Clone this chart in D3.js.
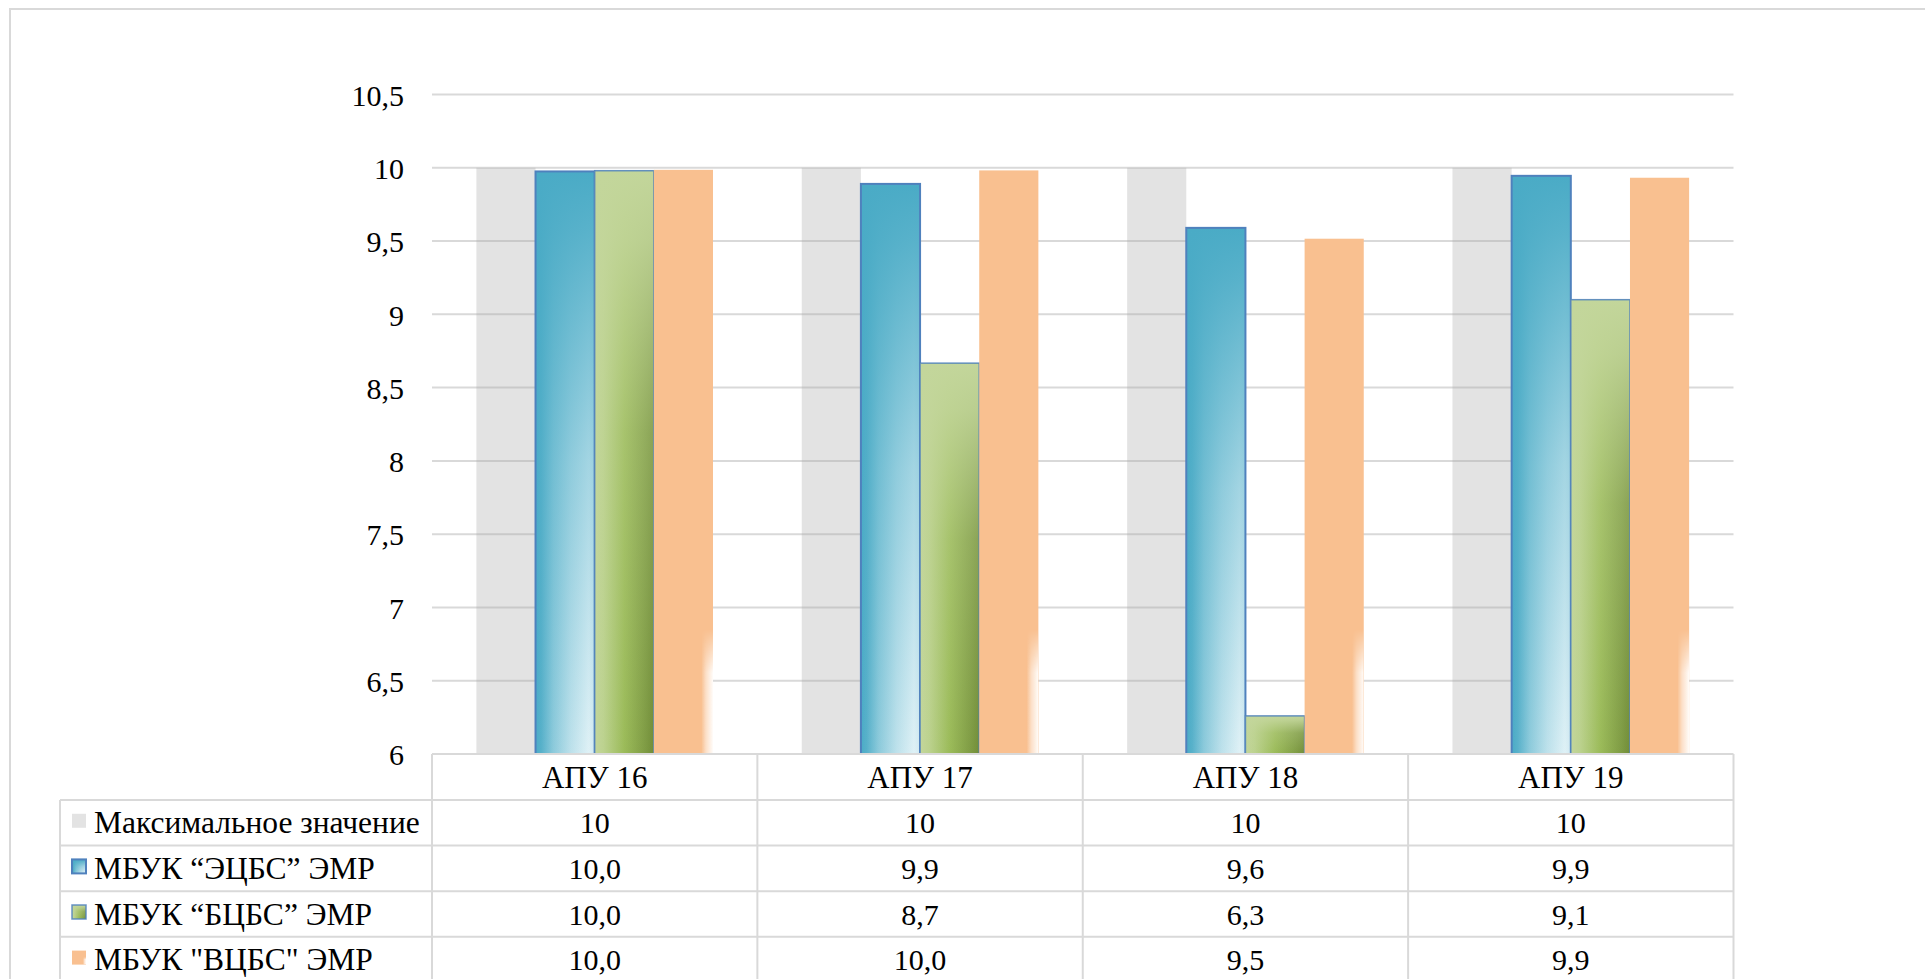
<!DOCTYPE html>
<html>
<head>
<meta charset="utf-8">
<script src="https://cdn.jsdelivr.net/npm/d3@7/dist/d3.min.js"></script>
<style>
  html, body { margin: 0; padding: 0; background: #ffffff; }
  svg { display: block; }
</style>
</head>
<body>
<svg id="chart" width="1925" height="979"></svg>
<script>
// ---- Data ----
const categories = ["АПУ 16", "АПУ 17", "АПУ 18", "АПУ 19"];
const seriesNames = ["Максимальное значение", "МБУК “ЭЦБС” ЭМР", "МБУК “БЦБС” ЭМР", "МБУК \"ВЦБС\" ЭМР"];
const maxValues  = [10, 10, 10, 10];
const ecbsValues = [9.975, 9.89, 9.59, 9.945];
const bcbsValues = [9.98, 8.667, 6.26, 9.10];
const vcbsValues = [9.986, 9.982, 9.516, 9.932];
const yTicks = [6, 6.5, 7, 7.5, 8, 8.5, 9, 9.5, 10, 10.5];

const seriesKeys = ["max", "ecbs", "bcbs", "vcbs"];
const seriesData = [maxValues, ecbsValues, bcbsValues, vcbsValues];

// ---- Layout ----
const W = 1925, H = 979;
const plotLeft = 432, plotRight = 1733.5, plotTop = 94.5, plotBottom = 754;
const tableLeft = 60, rowH = 45.6, headerH = 46;
const FONT = '"Liberation Serif", "Times New Roman", Tinos, serif';

const svg = d3.select("#chart");

// ---- Defs: gradients ----
const defs = svg.append("defs");
function linGrad(id, x1, y1, x2, y2, stops) {
  const g = defs.append("linearGradient").attr("id", id)
    .attr("x1", x1).attr("y1", y1).attr("x2", x2).attr("y2", y2);
  stops.forEach(s => g.append("stop").attr("offset", s[0]).attr("stop-color", s[1]).attr("stop-opacity", s[2] === undefined ? 1 : s[2]));
}
linGrad("blueH", 0, 0, 1, 0, [[0, "#4aabc6"], [0.1, "#58b1ca"], [0.3, "#8ccadb"], [0.6, "#bde1eb"], [0.9, "#dff1f6"], [1, "#d2eaf1"]]);
linGrad("blueV", 0, 0, 0, 1, [[0, "#4aabc6", 1], [0.1, "#4aabc6", 0.9], [0.5, "#4aabc6", 0.4], [1, "#4aabc6", 0]]);
linGrad("greenH", 0, 0, 1, 0, [[0, "#c3d69b"], [0.15, "#bcd28f"], [0.5, "#9bbb59"], [0.85, "#7f9c44"], [1, "#718d38"]]);
linGrad("greenV", 0, 0, 0, 1, [[0, "#c3d69b", 1], [0.12, "#c3d69b", 0.88], [0.45, "#c3d69b", 0.3], [1, "#c3d69b", 0]]);
linGrad("orangeFadeH", 0, 0, 1, 0, [[0, "#ffffff", 0], [0.4, "#ffffff", 0.5], [1, "#ffffff", 0.95]]);
linGrad("fadeMaskV", 0, 0, 0, 1, [[0, "#ffffff", 0], [0.35, "#ffffff", 1], [1, "#ffffff", 1]]);
defs.append("mask").attr("id", "fadeMask").attr("maskContentUnits", "objectBoundingBox")
  .append("rect").attr("x", 0).attr("y", 0).attr("width", 1).attr("height", 1).attr("fill", "url(#fadeMaskV)");

// ---- Outer chart border ----
svg.append("rect").attr("x", 10).attr("y", 9).attr("width", 2000).attr("height", 2000)
  .attr("fill", "#ffffff").attr("stroke", "#d9d9d9").attr("stroke-width", 2);

// ---- Scales ----
const x = d3.scaleBand().domain(categories).range([plotLeft, plotRight]).paddingInner(0).paddingOuter(0);
const xs = d3.scaleBand().domain(seriesKeys).range([0, x.bandwidth()]).paddingInner(0).paddingOuter(0.75);
const y = d3.scaleLinear().domain([6, 10.5]).range([plotBottom, plotTop]);

// ---- Gridlines ----
svg.append("g").selectAll("line").data(yTicks.filter(t => t > 6)).join("line")
  .attr("x1", plotLeft).attr("x2", plotRight)
  .attr("y1", d => y(d)).attr("y2", d => y(d))
  .attr("stroke", "#d9d9d9").attr("stroke-width", 2);

// ---- Y axis ----
const fmtTick = d => String(d).replace(".", ",");
const yAxis = d3.axisLeft(y).tickValues(yTicks).tickSize(0).tickPadding(28).tickFormat(fmtTick);
const yg = svg.append("g").attr("transform", `translate(${plotLeft},0)`).call(yAxis);
yg.select(".domain").remove();
yg.selectAll("text").style("font-family", FONT).style("font-size", "30px").attr("fill", "#000").attr("dy", "0.36em");

// ---- Bars ----
function drawSwatch(g, key, bx, by, bw, bh) {
  if (bh <= 0) return;
  if (key === "max") {
    g.append("rect").attr("x", bx).attr("y", by).attr("width", bw).attr("height", bh)
      .attr("fill", "#a5a5a5").attr("fill-opacity", 0.31);
  } else if (key === "ecbs") {
    g.append("rect").attr("x", bx).attr("y", by).attr("width", bw).attr("height", bh).attr("fill", "url(#blueH)");
    g.append("rect").attr("x", bx).attr("y", by).attr("width", bw).attr("height", bh).attr("fill", "url(#blueV)");
    g.append("rect").attr("x", bx).attr("y", by).attr("width", bw).attr("height", bh)
      .attr("fill", "none").attr("stroke", "#4f81bd").attr("stroke-width", 2);
  } else if (key === "bcbs") {
    g.append("rect").attr("x", bx).attr("y", by).attr("width", bw).attr("height", bh).attr("fill", "url(#greenH)");
    g.append("rect").attr("x", bx).attr("y", by).attr("width", bw).attr("height", bh).attr("fill", "url(#greenV)");
    g.append("rect").attr("x", bx).attr("y", by).attr("width", bw).attr("height", bh)
      .attr("fill", "none").attr("stroke", "#4f81bd").attr("stroke-width", 1.5).attr("stroke-opacity", 0.85);
  } else {
    g.append("rect").attr("x", bx).attr("y", by).attr("width", bw).attr("height", bh).attr("fill", "#f9c090");
    const fw = Math.max(3, bw * 0.2), fh = Math.min(bh, Math.max(bh * 0.55, 4));
    const fhBar = bh > 200 ? 125 : fh;
    g.append("rect").attr("x", bx + bw - fw).attr("y", by + bh - fhBar).attr("width", fw).attr("height", fhBar)
      .attr("fill", "url(#orangeFadeH)").attr("mask", "url(#fadeMask)");
  }
}

const barsG = svg.append("g");
categories.forEach((cat, ci) => {
  seriesKeys.forEach((key, si) => {
    const v = seriesData[si][ci];
    const bx = x(cat) + xs(key);
    const by = y(v);
    drawSwatch(barsG, key, bx, by, xs.bandwidth(), y(6) - by);
  });
});

// ---- Data table ----
const tbl = svg.append("g");
const lineColor = "#d9d9d9";
const nRows = seriesNames.length;
const tableTop = plotBottom;
const rowsTop = tableTop + headerH;
const rowY = i => rowsTop + i * rowH;

tbl.append("line").attr("x1", plotLeft).attr("x2", plotRight).attr("y1", tableTop).attr("y2", tableTop)
  .attr("stroke", lineColor).attr("stroke-width", 2);
for (let i = 0; i <= nRows; i++) {
  tbl.append("line").attr("x1", tableLeft).attr("x2", plotRight).attr("y1", rowY(i)).attr("y2", rowY(i))
    .attr("stroke", lineColor).attr("stroke-width", 2);
}
tbl.append("line").attr("x1", tableLeft).attr("x2", tableLeft).attr("y1", rowsTop).attr("y2", H + 10)
  .attr("stroke", lineColor).attr("stroke-width", 2);
categories.forEach(cat => {
  tbl.append("line").attr("x1", x(cat)).attr("x2", x(cat)).attr("y1", tableTop).attr("y2", H + 10)
    .attr("stroke", lineColor).attr("stroke-width", 2);
});
tbl.append("line").attr("x1", plotRight).attr("x2", plotRight).attr("y1", tableTop).attr("y2", H + 10)
  .attr("stroke", lineColor).attr("stroke-width", 2);

// header
tbl.selectAll("text.hdr").data(categories).join("text").attr("class", "hdr")
  .attr("x", d => x(d) + x.bandwidth() / 2).attr("y", tableTop + headerH / 2 + 10.5)
  .attr("text-anchor", "middle").style("font-family", FONT).style("font-size", "31px").attr("fill", "#000")
  .text(d => d);

// rows
const fmtVal = (si, v) => si === 0 ? String(v) : v.toFixed(1).replace(".", ",");
seriesNames.forEach((name, si) => {
  const cy = rowY(si) + rowH / 2;
  const kg = tbl.append("g");
  drawSwatch(kg, seriesKeys[si], 72, cy - 9, 14, 14);
  tbl.append("text").attr("x", 94).attr("y", cy + 10.5)
    .style("font-family", FONT).style("font-size", "31.5px").attr("fill", "#000").text(name);
  categories.forEach((cat, ci) => {
    tbl.append("text").attr("x", x(cat) + x.bandwidth() / 2).attr("y", cy + 10.5)
      .attr("text-anchor", "middle").style("font-family", FONT).style("font-size", "30px").attr("fill", "#000")
      .text(fmtVal(si, seriesData[si][ci]));
  });
});
</script>
</body>
</html>
